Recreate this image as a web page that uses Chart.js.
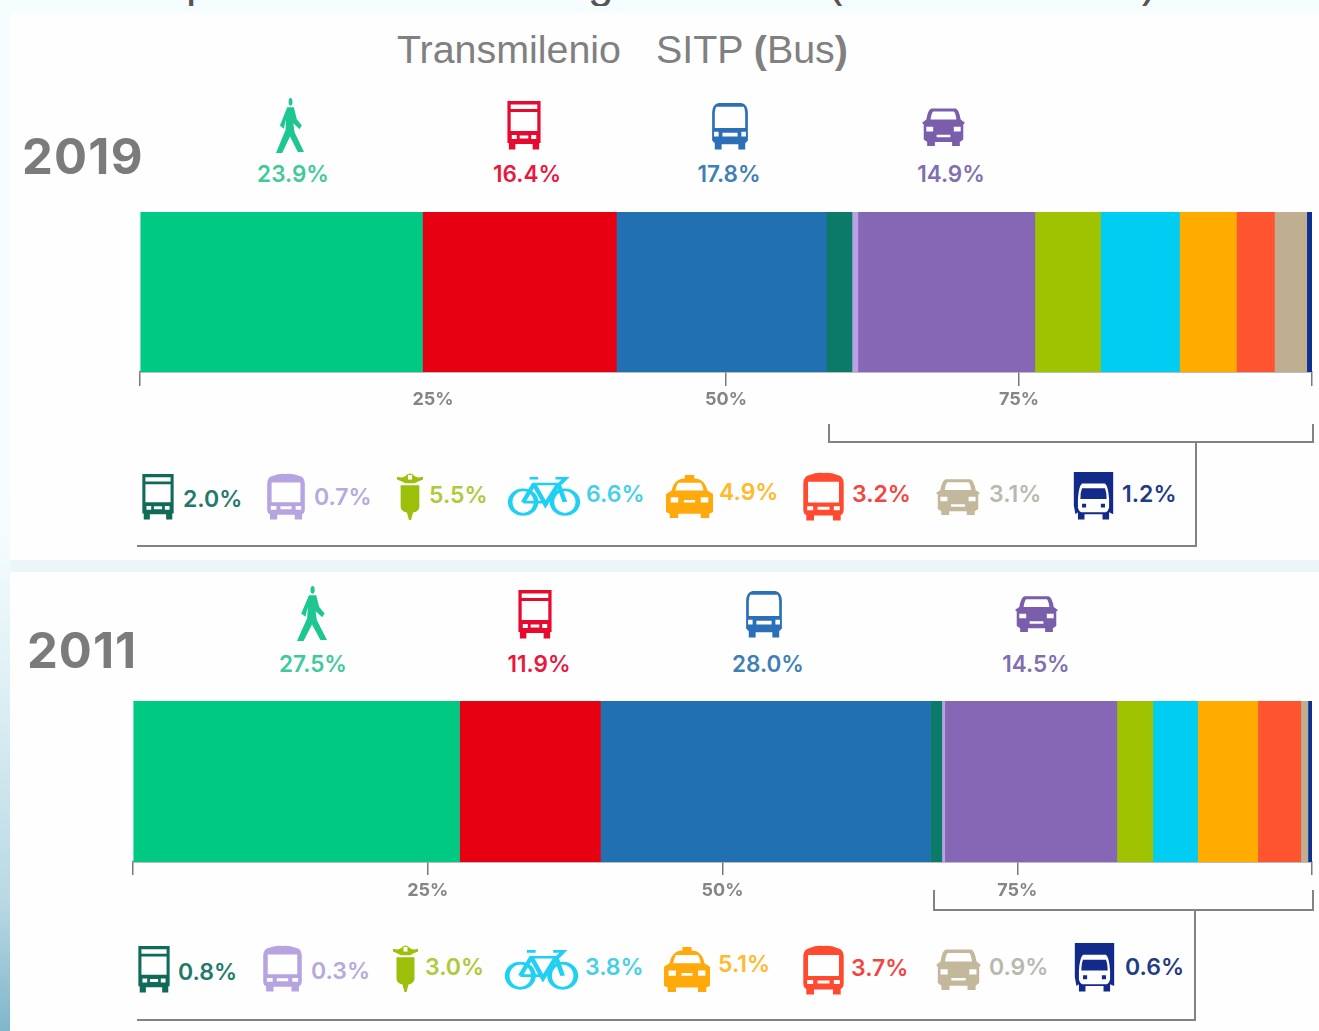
<!DOCTYPE html>
<html lang="es">
<head>
<meta charset="utf-8">
<title>Reparto modal 2019 y 2011</title>
<script src="https://cdn.jsdelivr.net/npm/chart.js@4"></script>
<style>
html,body{margin:0;padding:0;background:#fefefe;overflow:hidden}
#page{position:relative;width:1319px;height:1031px;overflow:hidden;background:#fefefe;filter:blur(0.5px)}
.band{position:absolute}
.t{position:absolute;white-space:nowrap;line-height:1;font-family:Inter,"Open Sans",sans-serif;font-weight:600;transform:translateY(-50%)}
.c{transform:translate(-50%,-50%)}
.ln{position:absolute;background:#808284}
svg.i{position:absolute;overflow:visible}
canvas{position:absolute;left:0}
.wrap{position:absolute;left:0;width:1319px}
</style>
</head>
<body>
<div id="page">
  <div class="band" style="left:0;top:0;width:1319px;height:13px;background:#f6fdfe"></div>
  <div class="band" style="left:0;top:560px;width:1319px;height:12px;background:#ecf6fa"></div>
  <div class="band" style="left:0;top:0;width:10px;height:1031px;background:linear-gradient(#f6fdfe 0,#f4fcfd 540px,#dceef4 700px,#b9d9e4 900px,#7fb6c9 1031px)"></div>
  <div id="clip" style="position:absolute;left:0;top:0;width:1319px;height:6px;overflow:hidden"></div>
  <div class="wrap" style="top:200px;height:220px"><canvas id="c2019"></canvas></div>
  <div class="wrap" style="top:689px;height:221px"><canvas id="c2011"></canvas></div>
  <div id="overlay"></div>
</div>
<script>
// ---------- data ----------
const order = ["A pie","Transmilenio","SITP (Bus)","Bus intermunicipal","Bus especial","Automóvil","Moto","Bicicleta","Taxi","Alimentador","Informal","Camión"];
const barColors = ["#00c984","#e60012","#2170b2","#0b7a68","#b7a3e2","#8667b5","#9fc300","#00cdf1","#ffab00","#ff5430","#bfae8f","#0e3093"];
// segment widths
const widths2019 = [24.1,16.55,17.9,2.2,0.5,15.1,5.6,6.75,4.85,3.25,2.75,0.45];
const widths2011 = [27.7,11.95,28.0,0.95,0.25,14.6,3.05,3.8,5.1,3.65,0.6,0.4];
// printed labels
const labels2019 = ["23.9%","16.4%","17.8%","2.0%","0.7%","14.9%","5.5%","6.6%","4.9%","3.2%","3.1%","1.2%"];
const labels2011 = ["27.5%","11.9%","28.0%","0.8%","0.3%","14.5%","3.0%","3.8%","5.1%","3.7%","0.9%","0.6%"];
const tickValues = [0,25,50,75,100];
const tickLabels = ["","25%","50%","75%",""];

// ---------- charts ----------
function makeChart(id, year, widths, pad, tickLen, h, tickPad, noMark){
  const cv = document.getElementById(id);
  cv.style.width='1319px'; cv.style.height=h+'px';
  return new Chart(cv,{
    type:'bar',
    data:{labels:[year],datasets:order.map((m,i)=>({label:m,data:[widths[i]],backgroundColor:barColors[i],borderWidth:0,barPercentage:1,categoryPercentage:1}))},
    options:{
      indexAxis:'y',responsive:true,maintainAspectRatio:false,animation:false,
      layout:{autoPadding:false,padding:pad},
      plugins:{legend:{display:false},tooltip:{enabled:false},title:{display:false}},
      scales:{
        y:{stacked:true,display:false},
        x:{stacked:true,min:0,max:100,
           afterFit:s=>{s.height=48},
           afterBuildTicks:s=>{s.ticks=tickValues.map(v=>({value:v}))},
           border:{display:true,color:'#77797a',width:1.5},
           grid:{drawOnChartArea:false,drawTicks:true,tickLength:tickLen,lineWidth:1.5,
                 color:c=>(c.tick&&c.tick.value===noMark)?'rgba(0,0,0,0)':'#77797a'},
           ticks:{autoSkip:false,maxRotation:0,padding:tickPad,color:'#858585',font:{family:'Inter',size:18,weight:'700'},
                  callback:(v)=>tickLabels[tickValues.indexOf(v)]}}
      }
    }
  });
}
makeChart('c2019','2019',widths2019,{left:140,right:7,top:12,bottom:0},14,220,3,25);
makeChart('c2011','2011',widths2011,{left:133,right:7,top:12,bottom:0},13,221,5,null);

// ---------- icons ----------
const ICON = {
 bus:`<path fill-rule="evenodd" d="M4 2H96V86H92V99H74V88H26V99H8V86H4ZM13 9V18H87V9ZM13 24V62H87V24ZM16 70V78H30V70ZM38 71V77H62V71ZM70 70V78H84V70Z"/>`,
 coach:`<path fill-rule="evenodd" d="M18 6Q34 0 50 2Q66 0 82 6Q96 8 97 22V78Q96 86 90 88V99H72V89H28V99H10V88Q4 86 3 78V22Q4 8 18 6ZM14 20V62H86V20ZM12 70V78H26V70ZM36 71V77H64V71ZM74 70V78H88V70Z"/>`,
 van:`<path fill-rule="evenodd" d="M20 2H80Q96 4 97 22V80L90 86V99H72V88H28V99H10V86L3 80V22Q4 4 20 2ZM14 10Q10 14 10 24V54H90V24Q90 14 86 10ZM8 62V72H20V62ZM30 64V72H70V64ZM80 62V72H92V62Z"/>`,
 car:`<path fill-rule="evenodd" d="M22 6H78Q86 8 90 34L100 42L96 46V84L88 90V100H70V90H30V100H12V90L4 84V46L0 42L10 34Q14 8 22 6ZM26 14Q22 18 20 34H80Q78 18 74 14ZM10 52V64H26V52ZM74 52V64H90V52ZM34 72V78H66V72Z"/>`,
 taxi:`<path fill-rule="evenodd" d="M40 0H60V8Q82 8 88 36L100 44V86L92 90V100H74V90H26V100H8V90L0 86V44L12 36Q18 8 40 8ZM26 18Q22 24 20 36H80Q78 24 74 18ZM10 52V64H26V52ZM74 52V64H90V52ZM38 58V64H62V58Z"/>`,
 truck:`<path fill-rule="evenodd" d="M2 0H98V88L88 84V99H72V88H28V99H12V84L6 88L2 70ZM22 24Q14 30 12 56V74Q14 82 20 84V84H80V84Q86 82 88 74V56Q86 30 78 24ZM22 34H78Q82 42 82 56H18Q18 42 22 34ZM22 66V74H32V66ZM68 66V74H78V66Z"/>`,
 walk:`<circle cx="52" cy="7" r="7"/><path d="M40 17H64L74 38L92 50L84 57L62 46L66 62L100 98H78L50 70L22 100H0L34 58L36 38L28 56L14 50Z"/>`,
 scooter:`<path d="M0 8Q24 12 34 6Q50 -4 66 6Q76 12 100 8V14Q78 18 68 22H32Q22 18 0 14ZM14 26H86V72Q84 82 62 84L54 100H46L38 84Q16 82 14 72Z"/><path fill="#fefefe" d="M42 4H58V14H42Z"/>`,
 bike:`<g fill="none" stroke="currentColor" stroke-width="6.5"><ellipse cx="21" cy="66" rx="18" ry="30"/><ellipse cx="79" cy="66" rx="18" ry="30"/><path d="M21 66L36 22H70L79 66M36 22L52 72L70 22M21 66H52M30 8H42M66 8H80L72 22"/></g>`
};
function icon(type,color,x,y,w,h){
  return `<svg class="i" style="left:${x}px;top:${y}px;width:${w}px;height:${h}px;color:${color}" viewBox="0 0 100 100" preserveAspectRatio="none" fill="${color}">${ICON[type]}</svg>`;
}
function txt(s,color,x,y,size,center){
  return `<div class="t${center?' c':''}" style="left:${x}px;top:${y}px;font-size:${size}px;color:${color}">${s}</div>`;
}
function line(x,y,w,h){return `<div class="ln" style="left:${x}px;top:${y}px;width:${w}px;height:${h}px"></div>`}

// ---------- layout of annotations ----------
const textCols = {walk:"#3fca9b",tm:"#e8183f",sitp:"#3e80b6",auto:"#8070b0",teal:"#1f7a6c",lilac:"#b6a9dd",moto:"#aec93a",bici:"#45cfe9",taxi:"#ffb92c",red:"#f4443f",tan:"#b8b8ae",navy:"#233a86"};
const ICOL = {walk:"#1ec792",tm:"#e60a2e",sitp:"#2a6fb7",auto:"#7a5eac",teal:"#0f6b58",lilac:"#b5a4e0",moto:"#9cbf0a",bici:"#1fd0f2",taxi:"#ffa90a",red:"#ff4a30",tan:"#c4b89c",navy:"#122b8a"};
let html='';
// title pieces clipped at the top of the page
document.getElementById('clip').innerHTML =
  [["p",186],["g",588],["(",828],[")",1141]].map(([s,x])=>`<div style="position:absolute;left:${x}px;top:-42px;font:46px/1 'Liberation Sans',sans-serif;color:#555">${s}</div>`).join('');
const titleFont = "font:39.4px/1 'Liberation Sans',sans-serif;color:#808080;white-space:nowrap";
html+=`<div style="position:absolute;left:397px;top:30px;${titleFont}">Transmilenio</div>`;
html+=`<div style="position:absolute;left:656px;top:30px;${titleFont}">SITP <b>(</b>Bus<b>)</b></div>`;
html+=`<div class="t" style="left:22px;top:156px;font-size:49px;letter-spacing:1.2px;font-weight:700;color:#7b7b7b">2019</div>`;
html+=`<div class="t" style="left:27px;top:650px;font-size:49px;letter-spacing:1px;font-weight:700;color:#7b7b7b">2011</div>`;

// headline modes
const head = [
 [labels2019[0],'walk',293,174,'walk',276,98,28,55],[labels2019[1],'tm',527,174,'bus',506,100,36,50],
 [labels2019[2],'sitp',729,174,'van',711,102,38,48],[labels2019[5],'auto',951,174,'car',922,106,43,40],
 [labels2011[0],'walk',313,664,'walk',297,586,30,55],[labels2011[1],'tm',539,664,'bus',517,589,36,50],
 [labels2011[2],'sitp',768,664,'van',745,590,38,48],[labels2011[5],'auto',1036,664,'car',1015,594,43,38]
];
head.forEach(([s,k,tx,ty,ic,x,y,w,h])=>{html+=icon(ic,ICOL[k],x,y,w,h);html+=txt(s,textCols[k],tx,ty,22.5,true);});

// legend row items: label, colour key, text x,y, icon, box
const rows = [
 [labels2019[3],'teal',183,499,'bus',141,473,34,47],[labels2019[4],'lilac',314,497,'coach',266,473,40,47],
 [labels2019[6],'moto',429,495,'scooter',397,473,26,47],[labels2019[7],'bici',586,494,'bike',508,475,72,41],
 [labels2019[8],'taxi',719,492,'taxi',666,475,47,43],[labels2019[9],'red',852,494,'coach',802,472,43,49],
 [labels2019[10],'tan',989,494,'car',936,477,44,38],[labels2019[11],'navy',1122,494,'truck',1073,472,41,48],
 [labels2011[3],'teal',178,972,'bus',137,945,34,48],[labels2011[4],'lilac',311,971,'coach',262,945,41,47],
 [labels2011[6],'moto',425,967,'scooter',393,945,25,47],[labels2011[7],'bici',585,967,'bike',505,948,73,42],
 [labels2011[8],'taxi',718,964,'taxi',664,947,46,45],[labels2011[9],'red',851,968,'coach',802,945,43,50],
 [labels2011[10],'tan',989,967,'car',936,947,45,43],[labels2011[11],'navy',1125,967,'truck',1074,943,41,49]
];
rows.forEach(([s,k,tx,ty,ic,x,y,w,h])=>{html+=icon(ic,ICOL[k],x,y,w,h);html+=txt(s,textCols[k],tx,ty,23,false);});

// brackets
html+=line(828,424,2,19)+line(828,441,486,2)+line(1312,424,2,19)+line(1195,441,2,106)+line(137,545,1060,2);
html+=line(933,890,2,21)+line(933,909,381,2)+line(1312,890,2,21)+line(1194,909,2,112)+line(137,1019,1059,2);
document.getElementById('overlay').innerHTML=html;
</script>
</body>
</html>
